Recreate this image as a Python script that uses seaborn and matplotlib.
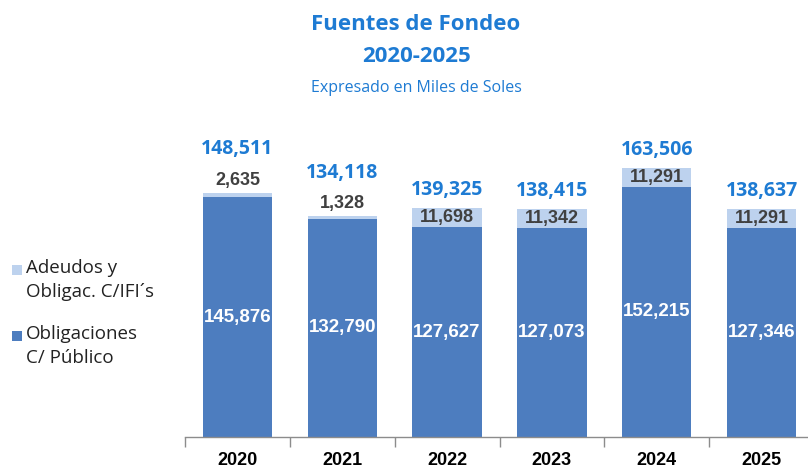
import matplotlib
matplotlib.use("Agg")
import matplotlib.pyplot as plt
import seaborn as sns
import pandas as pd
from matplotlib.patches import Rectangle

# Données (miles de soles)
anios = ["2020", "2021", "2022", "2023", "2024", "2025"]
obligaciones_publico = [145876, 132790, 127627, 127073, 152215, 127346]
adeudos_ifi = [2635, 1328, 11698, 11342, 11291, 11291]
totales = [148511, 134118, 139325, 138415, 163506, 138637]
series = ["Adeudos y\nObligac. C/IFI´s", "Obligaciones\nC/ Público"]

color_oscuro = "#4D7DBF"
color_claro = "#BDD2EE"
color_azul_txt = "#1E7BD3"
color_gris_txt = "#404040"

sns.set_theme(style="white")
plt.rcParams["font.family"] = ["Open Sans", "DejaVu Sans"]
fuente_num = ["Liberation Sans", "DejaVu Sans"]

df = pd.DataFrame({"anio": anios, "publico": obligaciones_publico,
                   "adeudos": adeudos_ifi, "total": totales})

W, H = 808, 474
fig = plt.figure(figsize=(W / 100, H / 100), dpi=100)
ax = fig.add_axes([185 / W, 37 / H, 629 / W, 296 / H])

# barras apiladas: total (claro) y encima la parte de obligaciones (oscuro)
sns.barplot(data=df, x="anio", y="total", color=color_claro, width=0.66,
            saturation=1, linewidth=0, ax=ax)
sns.barplot(data=df, x="anio", y="publico", color=color_oscuro, width=0.66,
            saturation=1, linewidth=0, ax=ax)

ax.set_xlim(-0.5, 5.5)
ax.set_ylim(0, 180000)
ax.set_xlabel("")
ax.set_ylabel("")
ax.set_yticks([])
for lado in ["top", "right", "left"]:
    ax.spines[lado].set_visible(False)
ax.spines["bottom"].set_color("#8C8C8C")
ax.spines["bottom"].set_linewidth(1.0)

ax.set_xticks(range(len(anios)))
ax.set_xticklabels(anios, fontsize=13, fontweight="bold", color="black",
                   family=fuente_num)
ax.tick_params(axis="x", which="major", length=0, pad=11)
ax.set_xticks([i - 0.5 for i in range(len(anios) + 1)], minor=True)
ax.tick_params(axis="x", which="minor", length=7, width=1.0, color="#8C8C8C",
               direction="out", bottom=True)

# etiquetas de datos
for i, (pub, ade, tot) in enumerate(zip(obligaciones_publico, adeudos_ifi, totales)):
    ax.text(i, pub / 2, f"{pub:,}", ha="center", va="center", color="white",
            fontsize=13.5, fontweight="bold", family=fuente_num)
    if ade < 5000:
        ax.annotate(f"{ade:,}", (i, tot), xytext=(0, 3), textcoords="offset points",
                    ha="center", va="bottom", color=color_gris_txt, fontsize=13,
                    fontweight="bold", family=fuente_num)
        desp = 24
    else:
        ax.text(i, pub + ade / 2, f"{ade:,}", ha="center", va="center",
                color=color_gris_txt, fontsize=13, fontweight="bold",
                family=fuente_num)
        desp = 6
    ax.annotate(f"{tot:,}", (i, tot), xytext=(0, desp), textcoords="offset points",
                ha="center", va="bottom", color=color_azul_txt, fontsize=14,
                fontweight="bold")

# títulos
fig.text(0.515, 1 - 25 / H, "Fuentes de Fondeo", ha="center", va="center",
         fontsize=16, fontweight="bold", color=color_azul_txt)
fig.text(0.515, 1 - 57 / H, "2020-2025", ha="center", va="center",
         fontsize=16, fontweight="bold", color=color_azul_txt)
fig.text(0.515, 1 - 88 / H, "Expresado en Miles de Soles", ha="center",
         va="center", fontsize=11.5, color=color_azul_txt)

# leyenda (cuadro alineado con la primera línea del texto)
for nombre, color, y_px in zip(series, [color_claro, color_oscuro], [270, 336]):
    fig.patches.append(Rectangle((12 / W, 1 - (y_px + 5) / H), 10 / W, 10 / H,
                                 transform=fig.transFigure, facecolor=color,
                                 edgecolor="none"))
    fig.text(26 / W, 1 - (y_px - 11) / H, nombre, ha="left", va="top",
             fontsize=13.5, color="#222222", linespacing=1.45)

fig.savefig("out.png", dpi=100)
